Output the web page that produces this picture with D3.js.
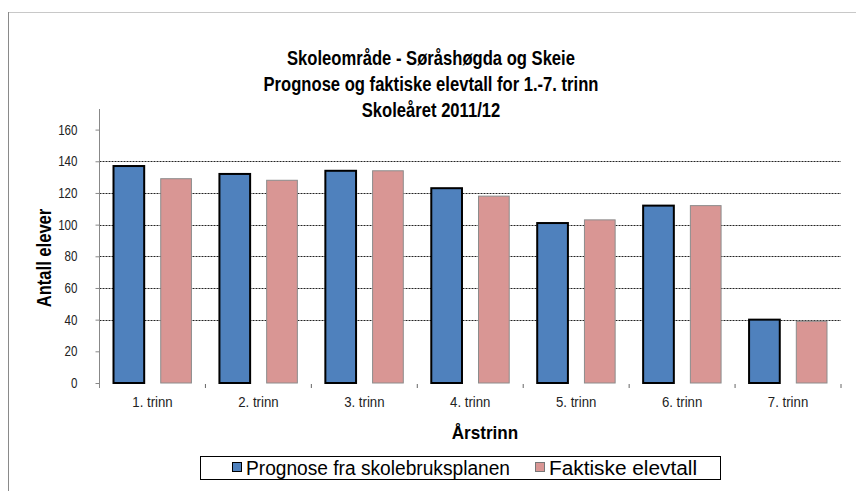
<!DOCTYPE html>
<html>
<head>
<meta charset="utf-8">
<script src="https://cdn.jsdelivr.net/npm/d3@7"></script>
<style>
  body { margin: 0; background: #fff; }
  text { font-family: "Liberation Sans", Arial, sans-serif; }
</style>
</head>
<body>
<div id="chart"></div>
<script>
// data
let categories = ["1. trinn", "2. trinn", "3. trinn", "4. trinn", "5. trinn", "6. trinn", "7. trinn"]
let prognose = [137, 132, 134, 123, 101, 112, 40]
let faktisk = [129, 128, 134, 118, 103, 112, 39]
let seriesNames = ["Prognose fra skolebruksplanen", "Faktiske elevtall"]
let yTicks = [0, 20, 40, 60, 80, 100, 120, 140, 160]
let gridTicks = [40, 60, 80, 100, 120, 140]
let titleLines = ["Skoleområde - Søråshøgda og Skeie", "Prognose og faktiske elevtall for 1.-7. trinn", "Skoleåret 2011/12"]

// the original text is a bit narrow, squeeze it
function squeeze(sel, f) {
  sel.each(function () {
    let w = this.getComputedTextLength()
    d3.select(this).attr('textLength', w * f).attr('lengthAdjust', 'spacingAndGlyphs')
  })
}

let svg = d3.select("#chart").append("svg")
  .attr("width", 856)
  .attr("height", 491)

// chart frame
svg.append('line').attr('x1', 8).attr('y1', 12.5).attr('x2', 856).attr('y2', 12.5)
  .attr('stroke', '#c8c8c8')
svg.append('line').attr('x1', 8.5).attr('y1', 12).attr('x2', 8.5).attr('y2', 491)
  .attr('stroke', '#8a8a8a')

let pLeft = 99.5, pRight = 841, pTop = 129.6, pBottom = 383

let y = d3.scaleLinear().domain([0, 160]).range([pBottom, pTop])
let x0 = d3.scaleBand().domain(categories).range([pLeft, pRight]).paddingInner(0).paddingOuter(0)
let x1 = d3.scaleBand().domain([0, 1]).range([14, x0.bandwidth() - 14]).paddingInner(0.35)

// gridlines
svg.selectAll('.grid')
  .data(gridTicks)
  .enter()
  .append('line')
  .attr('x1', pLeft)
  .attr('x2', pRight)
  .attr('y1', d => Math.round(y(d)) + 0.5)
  .attr('y2', d => Math.round(y(d)) + 0.5)
  .attr('stroke', '#222')
  .attr('stroke-dasharray', '2,1')
  .attr('stroke-width', 1)

// y axis
let yAxis = d3.axisLeft(y).tickValues(yTicks).tickSize(4).tickPadding(18)
let gy = svg.append('g').attr('transform', `translate(${pLeft},0)`).call(yAxis)
gy.select('.domain').remove()
gy.selectAll('line').attr('stroke', '#888')
gy.selectAll('text').attr('font-size', 14.5).attr('fill', '#222').style('font-family', '"Liberation Sans", Arial, sans-serif')
squeeze(gy.selectAll('text'), 0.8)
svg.append('line').attr('x1', pLeft).attr('x2', pLeft).attr('y1', 109).attr('y2', 388).attr('stroke', '#888')

// x axis ticks and labels
let xAxis = d3.axisBottom(x0).tickSize(0).tickPadding(13)
let gx = svg.append('g').attr('transform', `translate(0,${pBottom})`).call(xAxis)
gx.select('.domain').remove()
gx.selectAll('text').attr('font-size', 15).attr('fill', '#222').style('font-family', '"Liberation Sans", Arial, sans-serif')
squeeze(gx.selectAll('text'), 0.88)
svg.selectAll('.xtick')
  .data(categories)
  .enter()
  .append('line')
  .attr('x1', d => x0(d) + x0.bandwidth())
  .attr('x2', d => x0(d) + x0.bandwidth())
  .attr('y1', pBottom + 1)
  .attr('y2', pBottom + 5)
  .attr('stroke', '#666')

// bars
let rows = categories.map((c, i) => ({ cat: c, vals: [prognose[i], faktisk[i]] }))
let groups = svg.selectAll('.grp')
  .data(rows)
  .enter()
  .append('g')
  .attr('transform', d => `translate(${x0(d.cat)},0)`)

groups.append('rect')
  .attr('x', x1(0))
  .attr('width', x1.bandwidth())
  .attr('y', d => y(d.vals[0]))
  .attr('height', d => pBottom - y(d.vals[0]))
  .attr('fill', '#4f81bd')
  .attr('stroke', '#000')
  .attr('stroke-width', 2)

groups.append('rect')
  .attr('x', x1(1))
  .attr('width', x1.bandwidth())
  .attr('y', d => y(d.vals[1]))
  .attr('height', d => pBottom - y(d.vals[1]))
  .attr('fill', '#d99694')
  .attr('stroke', '#8c8c8c')
  .attr('stroke-width', 1)

// title
let titles = svg.selectAll('.title')
  .data(titleLines)
  .enter()
  .append('text')
  .attr('x', 431)
  .attr('y', (d, i) => 65 + i * 26)
  .attr('text-anchor', 'middle')
  .attr('font-size', 20.5)
  .attr('font-weight', 'bold')
  .text(d => d)
squeeze(titles, 0.81)

// axis titles
let yTitle = svg.append('text')
  .attr('transform', 'translate(51,258) rotate(-90)')
  .attr('text-anchor', 'middle')
  .attr('font-size', 19.5)
  .attr('font-weight', 'bold')
  .text('Antall elever')
squeeze(yTitle, 0.85)

let xTitle = svg.append('text')
  .attr('x', 485)
  .attr('y', 439)
  .attr('text-anchor', 'middle')
  .attr('font-size', 19)
  .attr('font-weight', 'bold')
  .text('Årstrinn')
squeeze(xTitle, 0.9)

// legend
let lg = svg.append('g')
lg.append('rect')
  .attr('x', 200.5).attr('y', 456.5).attr('width', 520).attr('height', 23)
  .attr('fill', 'none').attr('stroke', '#000')
let legendX = [232, 535]
let legendW = [264, 148]
let legendColors = [['#4f81bd', '#000'], ['#d99694', '#777']]
seriesNames.forEach((name, i) => {
  lg.append('rect')
    .attr('x', legendX[i] + 0.5).attr('y', 462.5).attr('width', 9).attr('height', 9)
    .attr('fill', legendColors[i][0]).attr('stroke', legendColors[i][1])
  lg.append('text')
    .attr('x', legendX[i] + 14).attr('y', 474.5)
    .attr('font-size', 19.5)
    .attr('textLength', legendW[i])
    .attr('lengthAdjust', 'spacingAndGlyphs')
    .text(name)
})
</script>
</body>
</html>
